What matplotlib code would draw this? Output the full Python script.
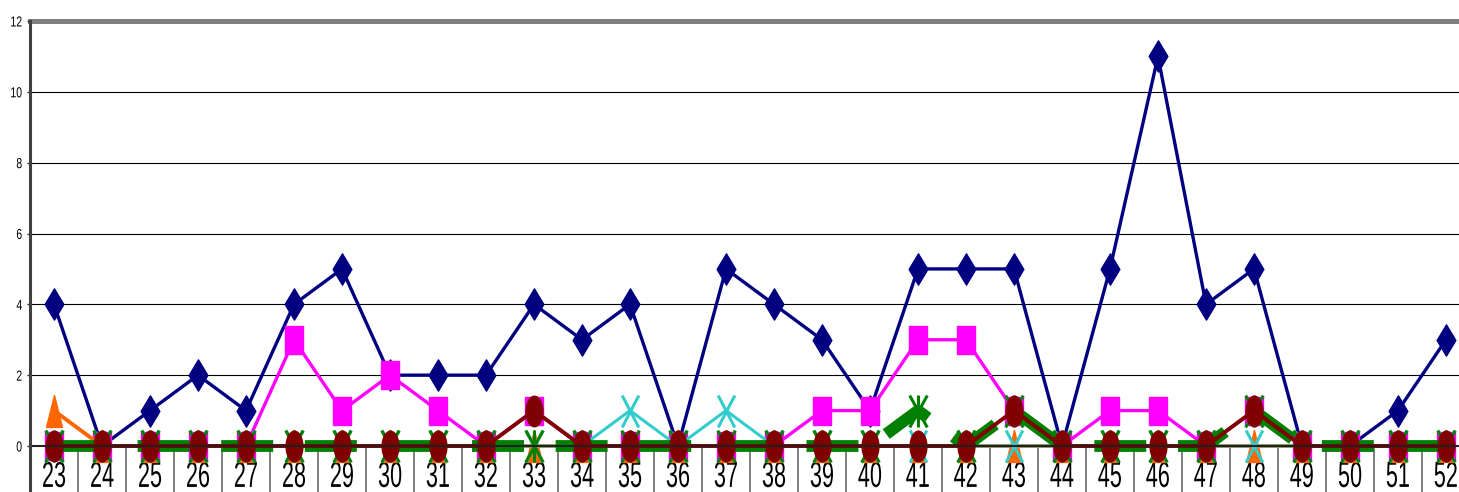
import numpy as np
import matplotlib
matplotlib.use('Agg')
import matplotlib.pyplot as plt
from matplotlib.path import Path
from matplotlib.transforms import Affine2D
from matplotlib.patheffects import AbstractPathEffect

plt.rcParams['font.family'] = ['Liberation Sans', 'DejaVu Sans']
plt.rcParams['lines.scale_dashes'] = False

# week numbers and counts
weeks = [str(w) for w in range(23, 53)]
navy = [4, 0, 1, 2, 1, 4, 5, 2, 2, 2, 4, 3, 4, 0, 5, 4, 3, 1, 5, 5, 5, 0, 5, 11, 4, 5, 0, 0, 1, 3]
magenta = [0, 0, 0, 0, 0, 3, 1, 2, 1, 0, 1, 0, 0, 0, 0, 0, 1, 1, 3, 3, 1, 0, 1, 1, 0, 1, 0, 0, 0, 0]
orange = [1, 0, 0, 0, 0, 0, 0, 0, 0, 0, 0, 0, 0, 0, 0, 0, 0, 0, 0, 0, 0, 0, 0, 0, 0, 0, 0, 0, 0, 0]
cyan = [0, 0, 0, 0, 0, 0, 0, 0, 0, 0, 0, 0, 1, 0, 1, 0, 0, 0, 0, 0, 0, 0, 0, 0, 0, 0, 0, 0, 0, 0]
green = [0, 0, 0, 0, 0, 0, 0, 0, 0, 0, 0, 0, 0, 0, 0, 0, 0, 0, 1, 0, 1, 0, 0, 0, 0, 1, 0, 0, 0, 0]
maroon = [0, 0, 0, 0, 0, 0, 0, 0, 0, 0, 1, 0, 0, 0, 0, 0, 0, 0, 0, 0, 1, 0, 0, 0, 0, 1, 0, 0, 0, 0]


class Squeeze(AbstractPathEffect):
    # narrow the glyphs horizontally (the picture uses a condensed face)
    def __init__(self, sx, anchor='center'):
        super().__init__()
        self.sx = sx
        self.anchor = anchor

    def draw_path(self, renderer, gc, tpath, affine, rgbFace=None):
        ext = tpath.get_extents(affine)
        cx = ext.x1 if self.anchor == 'right' else (ext.x0 + ext.x1) / 2
        affine = affine + Affine2D().translate(-cx, 0).scale(self.sx, 1).translate(cx, 0)
        renderer.draw_path(gc, tpath, affine, rgbFace)


# tall (squashed) marker shapes like in the picture
diamond = Path([(0, 1), (0.6, 0), (0, -1), (-0.6, 0), (0, 1)], closed=True)
square = Path([(-0.6, -1), (0.6, -1), (0.6, 1), (-0.6, 1), (-0.6, -1)], closed=True)
triangle = Path([(0, 1), (0.5, -1), (-0.5, -1), (0, 1)], closed=True)
t = np.linspace(0, 2 * np.pi, 40)
ellipse = Path(np.column_stack([0.55 * np.sin(t), np.cos(t)]), closed=True)
xmark = Path([(-0.52, -1), (0.52, 1), (-0.52, 1), (0.52, -1)],
             [Path.MOVETO, Path.LINETO, Path.MOVETO, Path.LINETO])
star = Path([(-0.55, -1), (0.55, 1), (-0.55, 1), (0.55, -1), (0, -1), (0, 1)],
            [Path.MOVETO, Path.LINETO, Path.MOVETO, Path.LINETO, Path.MOVETO, Path.LINETO])

fig = plt.figure(figsize=(14.59, 4.92), dpi=100)
ax = fig.add_axes([30 / 1459, 46 / 492, 1440 / 1459, 425 / 492])
x = np.arange(len(weeks))

ax.plot(x, navy, color='#000080', lw=2.4, marker=diamond, ms=22.5, mfc='#000080', mec='#000080', zorder=3, clip_on=False)
ax.plot(x, magenta, color='#FF00FF', lw=2.4, marker=square, ms=20.5, mfc='#FF00FF', mec='#FF00FF', zorder=4, clip_on=False)
ax.plot(x, orange, color='#FF6600', lw=2.8, marker=triangle, ms=23, mfc='#FF6600', mec='#FF6600', zorder=5, clip_on=False)
ax.plot(x, cyan, color='#33CCCC', lw=2.2, marker=xmark, ms=23, mfc='none', mec='#33CCCC', mew=2.2, zorder=6, clip_on=False)
ax.plot(x, green, color='#008000', lw=8.5, ls=(0, (37.4, 22.8)), dash_capstyle='butt',
        marker=star, ms=23, mfc='none', mec='#008000', mew=2.2, zorder=7, clip_on=False)
ax.plot(x, maroon, color='#800000', lw=2.8, marker=ellipse, ms=22, mfc='#800000', mec='#800000', zorder=8, clip_on=False)

ax.set_xlim(-0.5, len(weeks) - 0.5)
ax.set_ylim(0, 12)
ax.set_yticks([0, 2, 4, 6, 8, 10, 12])
for v in [2, 4, 6, 8, 10]:
    ax.axhline(v, color='black', lw=0.8, zorder=1)
ax.axhline(12, color='#808080', lw=3.6, zorder=1, clip_on=False)
ax.axhline(0, color='#202020', lw=1.5, zorder=10, clip_on=False)

ax.set_xticks(x)
ax.set_xticklabels(weeks, fontsize=26)
ax.set_xticks(np.arange(-0.5, len(weeks), 1), minor=True)
ax.tick_params(axis='x', which='major', length=0, pad=10)
ax.tick_params(axis='x', which='minor', length=33, width=1.4, color='#808080', direction='out')
ax.tick_params(axis='y', length=2.5, width=1, color='#303030', pad=3, labelsize=10.5)
for lab in ax.get_xticklabels():
    lab.set_path_effects([Squeeze(0.6)])
for lab in ax.get_yticklabels():
    lab.set_path_effects([Squeeze(0.72, anchor='right')])

for s in ['top', 'right', 'bottom', 'left']:
    ax.spines[s].set_visible(False)
ax.plot([0, 0], [-0.11, 1], transform=ax.transAxes, color='#404040', lw=2.2, clip_on=False, zorder=11)

fig.savefig('out.png', dpi=100)
